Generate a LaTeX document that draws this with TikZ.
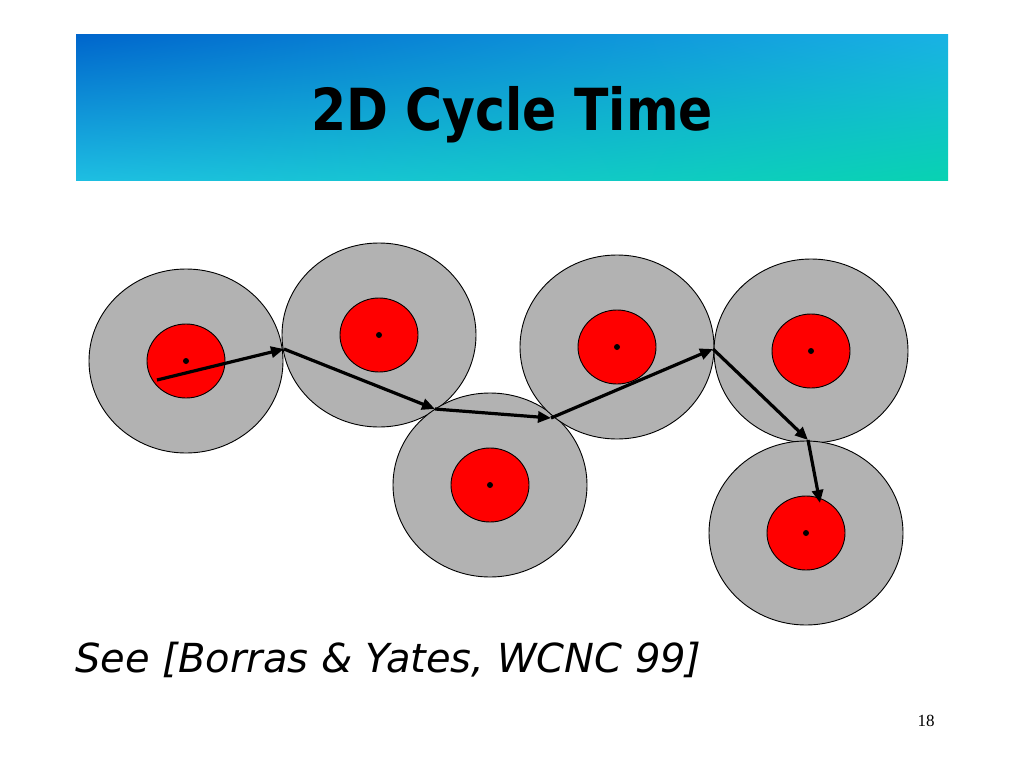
\documentclass[tikz,border=0pt]{standalone}
\usepackage{fontspec}
\setmainfont{DejaVu Sans}
\newfontfamily\numfont{Liberation Serif}
\usetikzlibrary{shapes.geometric,arrows.meta,shadings}
\definecolor{barA}{RGB}{0,102,204}
\definecolor{barB}{RGB}{25,178,228}
\definecolor{barC}{RGB}{30,190,226}
\definecolor{barD}{RGB}{8,210,178}
\definecolor{cellgray}{RGB}{178,178,178}
\tikzset{
  cell/.style={ellipse,draw,line width=0.9pt,fill=cellgray,
    minimum width=194pt,minimum height=184pt,inner sep=0pt},
  core/.style={ellipse,draw,line width=0.9pt,fill=red,
    minimum width=78pt,minimum height=74pt,inner sep=0pt},
  hop/.style={line width=3.2pt,-{Triangle[length=13pt,width=11pt]}}
}
\begin{document}
\begin{tikzpicture}[x=1pt,y=-1pt]
      \useasboundingbox[fill=white] (0,0) rectangle (1024,768);
      % title bar
      \shade[upper left=barA,upper right=barB,lower left=barC,lower right=barD]
        (76,35) rectangle (948,180);
      \node[font=\bfseries\fontsize{58}{66}\selectfont,xscale=0.87,anchor=base] (title) at (512,130) {2D Cycle Time};
      % cells
      \draw
        (186,361) node[cell] (c1){}
        (379,335) node[cell] (c2){}
        (490,485) node[cell] (c3){}
        (617,347) node[cell] (c4){}
        (811,351) node[cell] (c5){}
        (806,533) node[cell] (c6){};
      \foreach \i in {1,...,6}{
        \node[core] (k\i) at (c\i) {};
        \fill (k\i) circle (3pt);
      }
      % path of the mobile
      \coordinate (t0) at (157,380);
      \coordinate (t1) at (284,349);
      \coordinate (t2) at (435,409);
      \coordinate (t3) at (551,418);
      \coordinate (t4) at (713,349);
      \coordinate (t5) at (808,440);
      \coordinate (t6) at (820,503);
      \begin{scope}[hop]
        \draw (t0) to (t1);
        \draw (t1) to (t2);
        \draw (t2) to (t3);
        \draw (t3) to (t4);
        \draw (t4) to (t5);
        \draw (t5) to (t6);
      \end{scope}
      \node[font=\itshape\fontsize{40}{46}\selectfont,anchor=base west] (ref) at (72,672) {See [Borras \& Yates, WCNC 99]};
      \node[font=\numfont\fontsize{17}{20}\selectfont,anchor=base] (page) at (926,726) {18};
    \end{tikzpicture}
\end{document}
